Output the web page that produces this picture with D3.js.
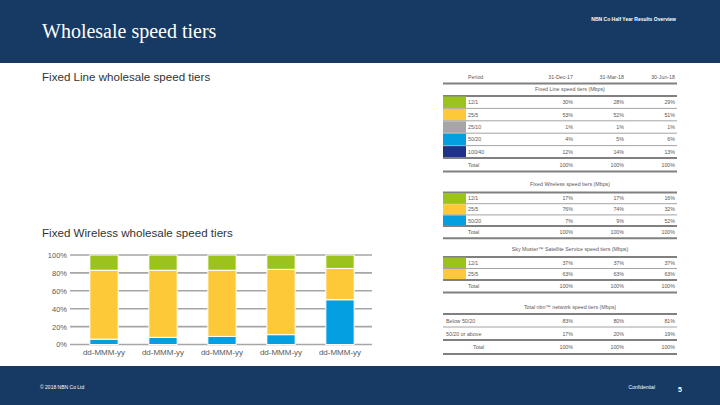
<!DOCTYPE html>
<html><head><meta charset="utf-8">
<script src="https://cdn.jsdelivr.net/npm/d3@7"></script>
<style>body{margin:0;background:#fff}svg{display:block}</style>
</head><body>
<svg id="c" width="720" height="405"></svg>
<script>
// ---- data ----
const chartCategories = ["dd-MMM-yy","dd-MMM-yy","dd-MMM-yy","dd-MMM-yy","dd-MMM-yy"];
const fw50_20 = [6, 8, 9, 11, 50];
const fw25_5 = [77, 75, 74, 73, 35];
const fw12_1 = [17, 17, 17, 16, 15];
const yTicks = [0, 20, 40, 60, 80, 100];

const periods = ["31-Dec-17", "31-Mar-18", "30-Jun-18"];
const flTiers = ["12/1", "25/5", "25/10", "50/20", "100/40"];
const flValues = [[30,28,29],[53,52,51],[1,1,1],[4,5,6],[12,14,13]];
const fwTiers = ["12/1", "25/5", "50/20"];
const fwValues = [[17,17,16],[76,74,32],[7,9,52]];
const smTiers = ["12/1", "25/5"];
const smValues = [[37,37,37],[63,63,63]];
const totTiers = ["Below 50/20", "50/20 or above"];
const totValues = [[83,80,81],[17,20,19]];
const totals = [100,100,100];

const C = {green:"#9cc31c", yellow:"#fdc939", gray:"#a6a6a6", blue:"#049fe1", navy:"#1f3385", header:"#163a63"};
const flColors = [C.green, C.yellow, C.gray, C.blue, C.navy];
const fwColors = [C.green, C.yellow, C.blue];
const smColors = [C.green, C.yellow];

const svg = d3.select("#c");
// header / footer
svg.append("rect").attr("x",0).attr("y",0).attr("width",720).attr("height",63).attr("fill",C.header);
svg.append("rect").attr("x",0).attr("y",366).attr("width",720).attr("height",39).attr("fill",C.header);
svg.append("text").attr("x",42).attr("y",38).attr("fill","#fff").attr("font-family","Liberation Serif")
  .attr("font-size",20).text("Wholesale speed tiers");
svg.append("text").attr("x",676).attr("y",21).attr("text-anchor","end").attr("fill","#fff")
  .attr("font-family","Liberation Sans").attr("font-size",5).attr("font-weight","bold").text("NBN Co Half Year Results Overview");
svg.append("text").attr("x",40).attr("y",389).attr("fill","#fff").attr("font-family","Liberation Sans")
  .attr("font-size",5).text("© 2018 NBN Co Ltd");
svg.append("text").attr("x",655).attr("y",389).attr("text-anchor","end").attr("fill","#fff").attr("font-family","Liberation Sans")
  .attr("font-size",5).text("Confidential");
svg.append("text").attr("x",678).attr("y",392).attr("fill","#fff").attr("font-family","Liberation Sans")
  .attr("font-size",7).attr("font-weight","bold").text("5");

svg.append("text").attr("x",42).attr("y",81).attr("fill","#333").attr("font-family","Liberation Sans")
  .attr("font-size",11.6).text("Fixed Line wholesale speed tiers");
svg.append("text").attr("x",42).attr("y",237).attr("fill","#333").attr("font-family","Liberation Sans")
  .attr("font-size",11.6).text("Fixed Wireless wholesale speed tiers");

// ---- bar chart ----
const x = d3.scaleBand().domain(d3.range(chartCategories.length)).range([74.5, 369.5]).paddingInner(0.52).paddingOuter(0.26);
const y = d3.scaleLinear().domain([0,100]).range([344.5, 255]);
const g = svg.append("g");
g.selectAll("line.grid").data(yTicks).join("line").attr("x1",70).attr("x2",372)
  .attr("y1",d=>y(d)).attr("y2",d=>y(d)).attr("stroke","#a6a6a6").attr("stroke-width",1.6);
const yAxis = g.append("g").attr("transform","translate(70,0)")
  .call(d3.axisLeft(y).tickValues(yTicks).tickFormat(d=>d+"%").tickSize(0).tickPadding(3));
yAxis.select(".domain").remove();
yAxis.selectAll("text").attr("font-family","Liberation Sans").attr("font-size",7.5).attr("fill","#595959");

const stackData = chartCategories.map((c,i)=>({i, a:fw50_20[i], b:fw25_5[i], c:fw12_1[i]}));
const series = d3.stack().keys(["a","b","c"])(stackData);
const segColors = [C.blue, C.yellow, C.green];
series.forEach((s,k)=>{
  g.selectAll(null).data(s).join("rect")
    .attr("x",d=>x(d.data.i)).attr("width",x.bandwidth())
    .attr("y",d=>y(d[1])).attr("height",d=>y(d[0])-y(d[1]))
    .attr("fill",segColors[k]).attr("stroke","#fff").attr("stroke-width",1);
});
const xAxis = g.append("g").attr("transform","translate(0,346)")
  .call(d3.axisBottom(x).tickFormat(i=>chartCategories[i]).tickSize(0).tickPadding(3));
xAxis.select(".domain").remove();
xAxis.selectAll("text").attr("font-family","Liberation Sans").attr("font-size",8).attr("fill","#595959");

// ---- tables ----
const TX0 = 443, TX1 = 677;
const colX = d3.scaleOrdinal().domain(d3.range(3)).range([573, 624, 675]);
const tf = {family:"Liberation Sans", size:5.3, fill:"#595959"};
function txt(xp, yp, s, anchor){
  return svg.append("text").attr("x",xp).attr("y",yp).attr("text-anchor",anchor||"start")
    .attr("font-family",tf.family).attr("font-size",tf.size).attr("fill",tf.fill).text(s);
}
function hline(yp, thick){
  svg.append("line").attr("x1",TX0).attr("x2",TX1).attr("y1",yp).attr("y2",yp)
    .attr("stroke", thick ? "#808080" : "#8c8c8c").attr("stroke-width", thick ? 2 : 0.8);
}
// header row
txt(468, 79, "Period");
periods.forEach((p,j)=>txt(colX(j), 79, p, "end"));
hline(83.5, true);

function table(title, titleY, tiers, values, colors, top, rowH, totalX){
  txt(570, titleY, title, "middle");
  hline(top, true);
  const ry = d3.scaleBand().domain(d3.range(tiers.length)).range([top, top + rowH*tiers.length]);
  tiers.forEach((t,i)=>{
    const y0 = ry(i);
    if (colors) svg.append("rect").attr("x",TX0).attr("y",y0+0.5).attr("width",23).attr("height",rowH-1).attr("fill",colors[i]);
    txt(colors ? 468 : 446, y0 + rowH/2 + 2, t);
    values[i].forEach((v,j)=>txt(colX(j), y0 + rowH/2 + 2, v+"%", "end"));
    if (i < tiers.length-1) hline(y0+rowH, false);
  });
  const bot = top + rowH*tiers.length;
  hline(bot, true);
  const totH = rowH + 1;
  txt(totalX, bot + totH/2 + 2, "Total");
  totals.forEach((v,j)=>txt(colX(j), bot + totH/2 + 2, v+"%", "end"));
  hline(bot + totH, true);
}
table("Fixed Line speed tiers (Mbps)", 91, flTiers, flValues, flColors, 96, 12.4, 468);
table("Fixed Wireless speed tiers (Mbps)", 186, fwTiers, fwValues, fwColors, 192.5, 11.2, 468);
table("Sky Muster\u2122 Satellite Service speed tiers (Mbps)", 251, smTiers, smValues, smColors, 257, 11.5, 468);
table("Total nbn\u2122 network speed tiers (Mbps)", 309, totTiers, totValues, null, 314, 13, 473);
</script>
</body></html>
